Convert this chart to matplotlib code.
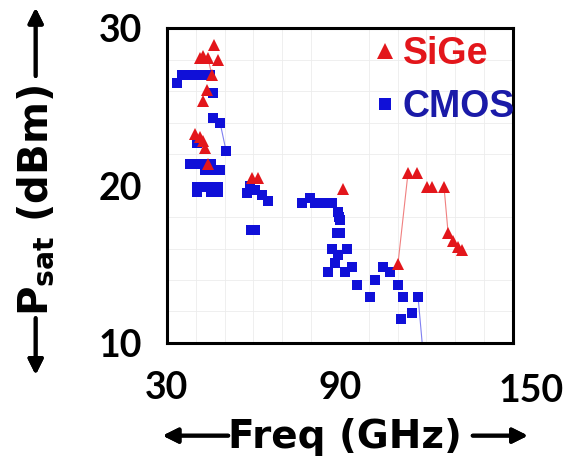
import numpy as np
import matplotlib
matplotlib.use('Agg')
import matplotlib.pyplot as plt

# --- Data (Freq in GHz, Psat in dBm) ---
sige_freq = [46.3, 41.4, 42.5, 44.2, 47.7, 45.6, 43.9, 42.5,
             39.7, 41.4, 42.5, 43.2, 44.2, 59.5, 61.6, 91.0,
             110.1, 113.6, 116.7, 120.2, 121.9, 126.1,
             127.5, 129.2, 130.9, 132.3]
sige_psat = [28.9, 28.1, 28.2, 28.1, 28.0, 27.0, 26.1, 25.4,
             23.3, 23.1, 22.8, 22.4, 21.4, 20.5, 20.5, 19.8,
             15.0, 20.8, 20.8, 19.9, 19.9, 19.9,
             17.0, 16.5, 16.1, 15.9]

cmos_freq = [33.5, 35.2, 37.3, 39.4, 41.4, 43.2, 44.9,
             46.0, 46.0, 48.4, 50.5, 40.4,
             38.0, 40.4, 42.8, 45.3, 43.2, 45.8, 48.4,
             40.4, 42.8, 45.3, 47.7, 40.4, 45.3, 47.7,
             57.7, 58.8, 60.5, 63.0, 65.0, 59.0, 60.6,
             76.8, 79.6, 81.3, 84.8, 87.2, 89.3, 89.6, 90.0,
             89.0, 90.0, 87.2, 92.4, 89.3, 88.3, 85.8, 91.7,
             94.2, 95.9, 100.4, 102.1, 104.9, 107.3, 110.1,
             111.9, 117.1, 115.0, 111.2]
cmos_psat = [26.5, 27.0, 27.0, 27.0, 27.0, 27.0, 27.0,
             25.9, 24.3, 24.0, 22.2, 22.7,
             21.4, 21.4, 21.4, 21.4, 21.0, 21.0, 21.0,
             19.9, 19.9, 19.9, 19.9, 19.6, 19.6, 19.6,
             19.5, 20.0, 19.7, 19.4, 19.0, 17.2, 17.2,
             18.9, 19.2, 18.9, 18.9, 18.9, 18.3, 18.0, 17.8,
             17.0, 17.0, 16.0, 16.0, 15.6, 15.1, 14.5, 14.5,
             14.8, 13.7, 12.9, 14.0, 14.8, 14.5, 13.7,
             12.9, 12.9, 11.9, 11.5]

# thin connecting traces seen in the picture
sige_trace1_x = [110.1, 113.6]
sige_trace1_y = [15.0, 20.8]
sige_trace2_x = [126.1, 127.5]
sige_trace2_y = [19.9, 17.0]
sige_trace3_x = [44.2, 45.6]
sige_trace3_y = [28.1, 27.0]
cmos_trace1_x = [46.0, 48.4, 50.5]
cmos_trace1_y = [24.3, 24.0, 22.2]
cmos_trace2_x = [117.1, 119.0]
cmos_trace2_y = [12.9, 9.0]

x_ticks = [30, 90, 150]
x_ticklabels = ['30', '90', '']   # '150' drawn separately, it sits right of the frame
y_ticks = [10, 20, 30]

RED = '#e3161b'
BLUE = '#1010d8'
FONT = 'Lato'
TITLE_FONT = 'DejaVu Sans'

fig = plt.figure(figsize=(5.75, 4.61), dpi=100)
ax = fig.add_axes([0.2904, 0.256, 0.6017, 0.683])

# faint grid
ax.set_xticks(np.arange(30, 151, 10), minor=True)
ax.set_yticks(np.arange(10, 31, 2), minor=True)
ax.grid(which='minor', color='#ececec', linewidth=0.6)
ax.set_axisbelow(True)

ax.plot(sige_trace1_x, sige_trace1_y, color='#f08080', lw=0.8)
ax.plot(sige_trace2_x, sige_trace2_y, color='#f08080', lw=0.8)
ax.plot(sige_trace3_x, sige_trace3_y, color='#f08080', lw=0.8)
ax.plot(cmos_trace1_x, cmos_trace1_y, color='#8080f0', lw=0.8)
ax.plot(cmos_trace2_x, cmos_trace2_y, color='#8080f0', lw=0.8)

ax.plot(cmos_freq, cmos_psat, 's', color=BLUE, ms=6.5, mew=0, label='CMOS')
ax.plot(sige_freq, sige_psat, '^', color=RED, ms=8.5, mew=0, label='SiGe')

ax.set_xlim(30, 150)
ax.set_ylim(10, 30)
ax.set_xticks(x_ticks, x_ticklabels)
ax.set_yticks(y_ticks)
ax.tick_params(which='both', length=0)
ax.tick_params(axis='x', pad=20)
ax.tick_params(axis='y', pad=18)
for lab in ax.get_xticklabels() + ax.get_yticklabels():
    lab.set_fontfamily(FONT)
    lab.set_fontweight('bold')
    lab.set_fontsize(27)
ax.annotate('150', xy=(150, 0), xycoords=('data', 'axes fraction'),
            xytext=(13, -22.5), textcoords='offset points', ha='center', va='top',
            fontfamily=FONT, fontweight='bold', fontsize=27)

for s in ax.spines.values():
    s.set_linewidth(2.2)
    s.set_color('black')

# legend (SiGe first)
h, l = ax.get_legend_handles_labels()
leg = ax.legend([h[1], h[0]], [l[1], l[0]], loc='upper left',
                bbox_to_anchor=(0.605, 0.975), frameon=False,
                handlelength=0.45, handletextpad=0.25, labelspacing=0.45,
                borderpad=0, borderaxespad=0, markerscale=1.3,
                prop={'family': 'Liberation Sans', 'weight': 'bold', 'size': 27},
                labelcolor=[RED, '#1a1aa8'])
leg.set_clip_on(False)

# axis titles with arrows
fig.text(0.397, 0.052, 'Freq (GHz)', ha='left', va='center',
         fontfamily=TITLE_FONT, fontweight='bold', fontsize=28)
fig.text(0.062, 0.566, 'P$_{\\mathregular{sat}}$ (dBm)', rotation=90,
         ha='center', va='center', fontfamily=TITLE_FONT, fontweight='bold', fontsize=29)

arrow = dict(arrowstyle='-|>,head_length=0.9,head_width=0.45', color='black', lw=2.8,
             shrinkA=0, shrinkB=0)
fig.add_artist(plt.annotate('', xy=(0.283, 0.055), xytext=(0.397, 0.055),
                            xycoords='figure fraction', arrowprops=arrow))
fig.add_artist(plt.annotate('', xy=(0.918, 0.055), xytext=(0.822, 0.055),
                            xycoords='figure fraction', arrowprops=arrow))
fig.add_artist(plt.annotate('', xy=(0.062, 0.983), xytext=(0.062, 0.835),
                            xycoords='figure fraction', arrowprops=arrow))
fig.add_artist(plt.annotate('', xy=(0.062, 0.187), xytext=(0.062, 0.31),
                            xycoords='figure fraction', arrowprops=arrow))

fig.savefig('out.png', dpi=100)
